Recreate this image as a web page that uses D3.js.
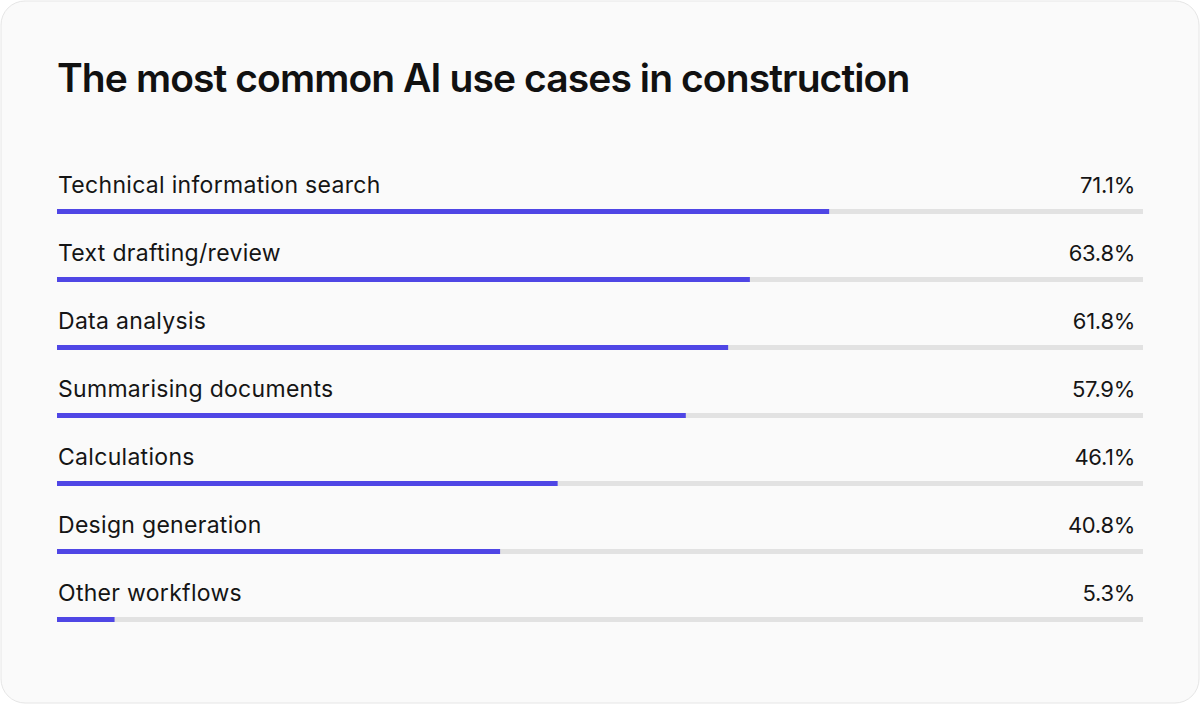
<!DOCTYPE html>
<html><head><meta charset="utf-8">
<script src="https://cdn.jsdelivr.net/npm/d3@7"></script>
<style>
html,body{margin:0;padding:0;background:#ffffff;}
svg{display:block;}
</style></head>
<body>
<svg id="chart" width="1200" height="704"></svg>
<script>
const title = "The most common AI use cases in construction";
const categories = ["Technical information search","Text drafting/review","Data analysis","Summarising documents","Calculations","Design generation","Other workflows"];
const values = [71.1, 63.8, 61.8, 57.9, 46.1, 40.8, 5.3];
const domainMax = 100;

const svg = d3.select("#chart");
svg.append("rect").attr("x",1).attr("y",1).attr("width",1198).attr("height",702)
  .attr("rx",24).attr("ry",24).attr("fill","#fafafa").attr("stroke","#e6e6e6").attr("stroke-width",1);

svg.append("text").attr("x",57).attr("y",92).text(title)
  .attr("font-family","Inter, 'Noto Sans', sans-serif").attr("font-weight",600)
  .attr("font-size",39).attr("letter-spacing","-0.9px").attr("fill","#111111");

const x = d3.scaleLinear().domain([0, domainMax]).range([57, 1143]);
const y = d3.scaleBand().domain(categories).range([178, 654]).padding(0);

const rows = svg.append("g").selectAll("g").data(categories).join("g")
  .attr("transform", d => `translate(0,${y(d)})`);

const barY = 31, barH = 5;
rows.append("rect").attr("x", x(0)).attr("y", barY).attr("width", x(domainMax)-x(0)).attr("height", barH).attr("fill","#e2e2e2");
rows.append("rect").attr("x", x(0)).attr("y", barY).attr("width", (d,i) => x(values[i]) - x(0)).attr("height", barH).attr("fill","#4f46e5");

rows.append("text").attr("x",58).attr("y",15).text(d=>d)
  .attr("font-family","Inter, 'Noto Sans', sans-serif").attr("font-size",23).attr("letter-spacing","0.3px").attr("fill","#151515");
rows.append("text").attr("x",1135).attr("y",15).attr("text-anchor","end")
  .text((d,i)=>values[i].toFixed(1)+"%")
  .attr("font-family","Inter, 'Noto Sans', sans-serif").attr("font-size",22).attr("letter-spacing","-0.3px").attr("fill","#151515");
</script>
</body></html>
